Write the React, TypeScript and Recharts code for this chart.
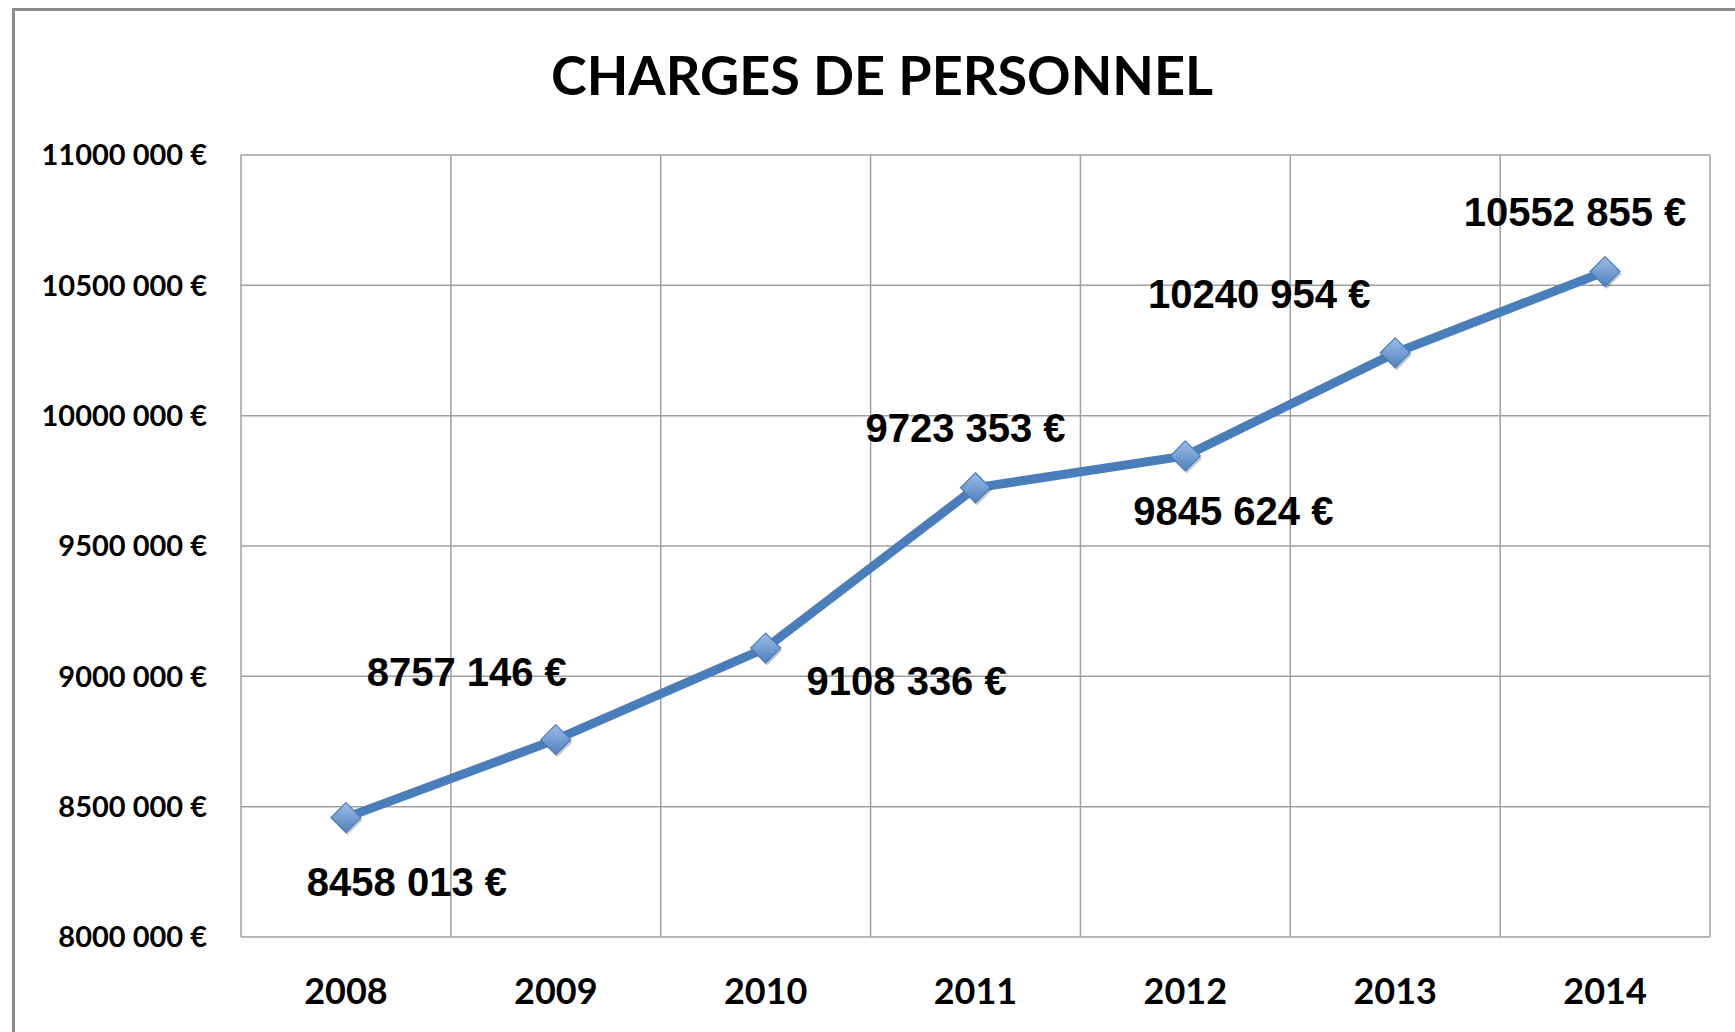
import { CartesianGrid, LabelList, Line, LineChart, XAxis, YAxis } from "recharts";

const years = ["2008", "2009", "2010", "2011", "2012", "2013", "2014"];
const charges = [8458013, 8757146, 9108336, 9723353, 9845624, 10240954, 10552855];
const yTicks = [8000000, 8500000, 9000000, 9500000, 10000000, 10500000, 11000000];
// label position relative to its point, [dx, dy]
const labelOffsets = [
  [61, 64],
  [-89, -68],
  [141, 33],
  [-10, -60],
  [48, 55],
  [-136, -59],
  [-30, -60],
];

const data = years.map((year, i) => ({ pos: i + 0.5, year, amount: charges[i] }));
const xTicks = data.map((d) => d.pos);
const bands = years.length;

function euro(v: number) {
  const s = String(Math.round(v));
  return `${s.slice(0, -3)} ${s.slice(-3)} €`;
}

function Diamond({ cx, cy, index }: any) {
  if (cx == null || cy == null) return null;
  const r = 15;
  const pts = (x: number, y: number) => `${x},${y - r} ${x + r},${y} ${x},${y + r} ${x - r},${y}`;
  const id = `dg${index}`;
  return (
    <g>
      <defs>
        <linearGradient id={id} x1="0" y1="0" x2="0" y2="1">
          <stop offset="0%" stopColor="#9cbde8" />
          <stop offset="100%" stopColor="#4f81bd" />
        </linearGradient>
      </defs>
      <polygon points={pts(cx + 1.5, cy + 2.5)} fill="rgba(0,0,0,0.22)" />
      <polygon points={pts(cx, cy)} fill={`url(#${id})`} stroke="#4a7ebb" strokeWidth={1.2} />
    </g>
  );
}

function ValueLabel({ x, y, value, index }: any) {
  const [dx, dy] = labelOffsets[index];
  return (
    <text
      x={x + dx}
      y={y + dy}
      textAnchor="middle"
      dominantBaseline="central"
      fontFamily="'Liberation Sans', Arial, sans-serif"
      fontWeight="bold"
      fontSize={40}
      fill="#000"
    >
      {euro(value)}
    </text>
  );
}

export default function App() {
  return (
    <div
      style={{
        position: "absolute",
        left: 0,
        top: 0,
        width: 1735,
        height: 1032,
        overflow: "hidden",
        background: "#fff",
      }}
    >
      <div
        style={{
          position: "absolute",
          left: 12,
          top: 8,
          width: 1800,
          height: 1100,
          border: "3px solid #8c8c8c",
        }}
      />
      <div
        style={{
          position: "absolute",
          left: 482,
          width: 800,
          top: 40,
          textAlign: "center",
          fontFamily: "Lato, sans-serif",
          fontWeight: "bold",
          fontSize: 54,
          lineHeight: "70px",
          color: "#000",
        }}
      >
        CHARGES DE PERSONNEL
      </div>
      <div style={{ position: "absolute", left: 0, top: 0 }}>
        <LineChart width={1735} height={1032} data={data} margin={{ top: 155, right: 25, bottom: 0, left: 0 }}>
          <CartesianGrid
            stroke="#a0a0a0"
            strokeWidth={1.5}
            verticalCoordinatesGenerator={({ offset }: any) =>
              Array.from({ length: bands + 1 }, (_, i) => offset.left + (offset.width * i) / bands)
            }
          />
          <XAxis
            dataKey="pos"
            type="number"
            domain={[0, bands]}
            ticks={xTicks}
            tickFormatter={(v) => years[Math.floor(v)]}
            axisLine={false}
            tickLine={false}
            tickSize={0}
            tickMargin={41}
            height={95}
            tick={{ fill: "#000", fontFamily: "Lato, sans-serif", fontWeight: "bold", fontSize: 36 }}
          />
          <YAxis
            type="number"
            domain={[8000000, 11000000]}
            ticks={yTicks}
            tickFormatter={euro}
            axisLine={false}
            tickLine={false}
            tickSize={0}
            tickMargin={34}
            width={241}
            tick={{ fill: "#000", fontFamily: "Lato, sans-serif", fontWeight: "bold", fontSize: 29 }}
          />
          <Line
            dataKey="amount"
            stroke="#4a7ebb"
            strokeWidth={9}
            dot={<Diamond />}
            activeDot={false}
            isAnimationActive={false}
          >
            <LabelList dataKey="amount" content={<ValueLabel />} />
          </Line>
        </LineChart>
      </div>
    </div>
  );
}
